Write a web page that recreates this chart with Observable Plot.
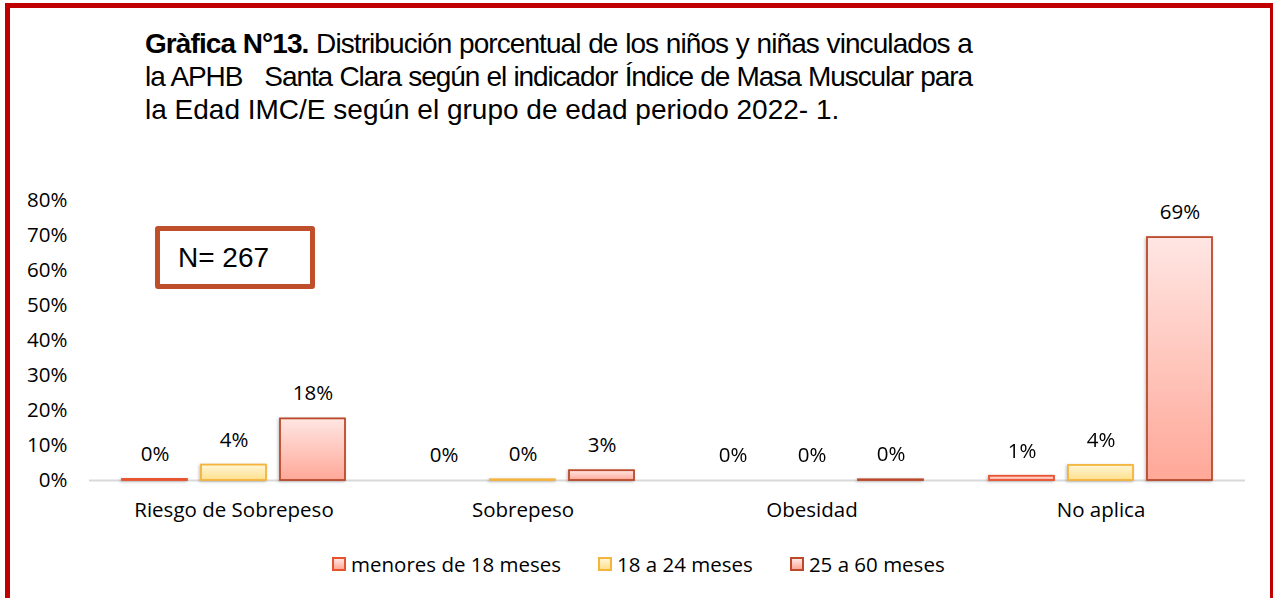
<!DOCTYPE html>
<html>
<head>
<meta charset="utf-8">
<script src="https://cdn.jsdelivr.net/npm/d3@7"></script>
<script src="https://cdn.jsdelivr.net/npm/@observablehq/plot@0.6"></script>
<style>
  html, body { margin: 0; padding: 0; background: #fff; }
  #wrap { position: relative; width: 1273px; height: 598px; overflow: hidden; background: #fff; }
  #frame { position: absolute; left: 5px; top: 3px; width: 1270px; height: 700px; box-sizing: border-box; border: 5px solid #c00000; pointer-events: none; }
  #title { position: absolute; left: 145px; top: 27px; width: 827px; font-family: "Liberation Sans", Arial, sans-serif; font-size: 28px; line-height: 33px; color: #000; }
  #title .j { text-align: justify; text-align-last: justify; white-space: nowrap; }
  #title .l { white-space: nowrap; }
  #chart { position: absolute; left: 0; top: 180px; }
  #nbox { position: absolute; left: 155px; top: 226px; width: 160px; height: 63px; box-sizing: border-box; border: 5px solid #bf4f2a; border-radius: 3px; font-family: "Liberation Sans", Arial, sans-serif; font-size: 28px; line-height: 53px; padding-left: 18px; color: #000; }
  #legend { position: absolute; left: 332px; top: 550px; display: flex; gap: 37px; font-family: "Open Sans", sans-serif; font-size: 20.5px; color: #000; line-height: 28px; }
  #legend .item { display: flex; align-items: center; gap: 5px; }
  #legend .sw { width: 14px; height: 14px; box-sizing: border-box; border: 2px solid; }
</style>
</head>
<body>
<div id="wrap">
  <div id="title">
    <div class="j"><span><b>Gràfica N°13.</b> Distribución porcentual de los niños y niñas vinculados a</span></div>
    <div class="j"><span>la APHB&nbsp;&nbsp; Santa Clara según el indicador Índice de Masa Muscular para</span></div>
    <div class="l">la Edad IMC/E según el grupo de edad periodo 2022- 1.</div>
  </div>
  <div id="chart"></div>
  <div id="nbox">N= 267</div>
  <div id="legend"></div>
  <div id="frame"></div>
</div>
<script>
const categories = ["Riesgo de Sobrepeso", "Sobrepeso", "Obesidad", "No aplica"];
const series = ["menores de 18 meses", "18 a 24 meses", "25 a 60 meses"];
const menores18 = [0.3, 0, 0, 1.2];
const de18a24 = [4.4, 0.2, 0, 4.3];
const de25a60 = [17.6, 2.8, 0.2, 69.4];
const yTicks = [0, 10, 20, 30, 40, 50, 60, 70, 80];

const seriesValues = [menores18, de18a24, de25a60];
const strokes = ["#e8532e", "#f5b43c", "#bb4a2c"];
const gradTop = ["#ffe6e3", "#fff6d6", "#ffe6e3"];
const gradBottom = ["#ffa898", "#ffe08c", "#ffa898"];

const data = [];
series.forEach((s, i) => categories.forEach((c, j) => data.push({category: c, series: s, si: i, value: seriesValues[i][j]})));

const font = "'Open Sans', sans-serif";

const barMarks = series.map((s, i) =>
  Plot.barY(data.filter(d => d.si === i && d.value > 0), {
    fx: "category", x: "series", y: "value",
    fill: `url(#grad${i})`, stroke: strokes[i], strokeWidth: 1.8
  })
);

const chart = Plot.plot({
  width: 1273,
  height: 350,
  marginTop: 20,
  marginBottom: 50,
  marginLeft: 88,
  marginRight: 28,
  style: {fontFamily: font, fontSize: "20.5px", color: "#000", background: "transparent"},
  fx: {domain: categories, padding: 0, axis: "bottom", label: null, tickSize: 0, tickPadding: 22},
  x: {domain: series, axis: null, paddingInner: 0.175, paddingOuter: 0.395},
  y: {domain: [0, 80], ticks: yTicks, tickFormat: d => d + "%", tickSize: 0, tickPadding: 22, label: null},
  marks: [
    Plot.ruleY([0], {stroke: "#d9d9d9", strokeWidth: 2}),
    ...barMarks,
    Plot.text(data, {
      fx: "category", x: "series", y: "value",
      text: d => Math.round(d.value) + "%",
      dy: -25, lineAnchor: "middle", fill: "#000", fontSize: 20.5
    })
  ]
});

// gradient definitions
const ns = "http://www.w3.org/2000/svg";
const defs = document.createElementNS(ns, "defs");
series.forEach((s, i) => {
  const g = document.createElementNS(ns, "linearGradient");
  g.setAttribute("id", `grad${i}`);
  g.setAttribute("x1", "0"); g.setAttribute("y1", "0");
  g.setAttribute("x2", "0"); g.setAttribute("y2", "1");
  [[0, gradTop[i]], [1, gradBottom[i]]].forEach(([o, c]) => {
    const st = document.createElementNS(ns, "stop");
    st.setAttribute("offset", o);
    st.setAttribute("stop-color", c);
    g.appendChild(st);
  });
  defs.appendChild(g);
});
chart.insertBefore(defs, chart.firstChild);
chart.querySelectorAll("g[aria-label='bar']").forEach(g => {
  g.style.filter = "drop-shadow(-1px 1px 1.5px rgba(0,0,0,0.25))";
});
document.getElementById("chart").appendChild(chart);

// condense the justified title lines so they fit the title width, like the original
const titleWidth = 827;
document.querySelectorAll("#title .j").forEach(line => {
  const span = line.querySelector("span");
  const w = span.getBoundingClientRect().width;
  if (w > titleWidth - 4) {
    const chars = span.textContent.length;
    const ls = -((w - titleWidth + 8) / chars);
    line.style.letterSpacing = ls.toFixed(2) + "px";
  }
});

// legend
const legend = document.getElementById("legend");
series.forEach((s, i) => {
  const item = document.createElement("div");
  item.className = "item";
  const sw = document.createElement("div");
  sw.className = "sw";
  sw.style.borderColor = strokes[i];
  sw.style.background = `linear-gradient(${gradTop[i]}, ${gradBottom[i]})`;
  const t = document.createElement("span");
  t.textContent = s;
  item.appendChild(sw);
  item.appendChild(t);
  legend.appendChild(item);
});
</script>
</body>
</html>
